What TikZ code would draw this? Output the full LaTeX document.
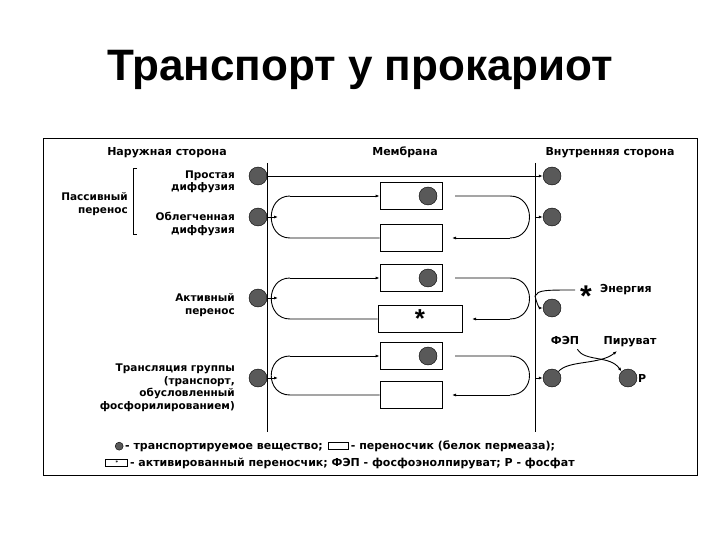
\documentclass[tikz,border=0pt]{standalone}
\usepackage{fontspec}
\setmainfont{Liberation Sans}
\newfontfamily\djfont{DejaVu Sans}
\usetikzlibrary{arrows.meta}
\begin{document}
\begin{tikzpicture}[x=1pt,y=-1pt,
  lbl/.style={font=\djfont\bfseries\fontsize{10.5}{12.5}\selectfont,align=right,inner sep=0},
  hdr/.style={font=\djfont\bfseries\fontsize{11}{12}\selectfont,inner sep=0},
  mol/.style={circle,draw=black,fill=black!65,minimum size=18,inner sep=0},
  carrier/.style={draw,thick,minimum width=62,minimum height=27,inner sep=0},
  ln/.style={line width=0.9pt},
  arr/.style={ln,-{Latex[length=4pt,width=3pt]}}]
\useasboundingbox (0,0) rectangle (720,540);
\node[font=\bfseries\fontsize{44}{48}\selectfont] (title) at (360,70) {Транспорт у прокариот};
\draw[thick] (43,138) rectangle (697,475);
% headers
\node[hdr,anchor=base] (h1) at (167,156) {Наружная сторона};
\node[hdr,anchor=base] (h2) at (405,156) {Мембрана};
\node[hdr,anchor=base] (h3) at (610,156) {Внутренняя сторона};
% membrane
\coordinate (mlt) at (267,163); \coordinate (mlb) at (267,432);
\coordinate (mrt) at (535,163); \coordinate (mrb) at (535,432);
\draw[ln] (mlt) -- (mlb);
\draw[ln] (mrt) -- (mrb);
% left labels
\node[lbl,anchor=east] (l1) at (235,182) {Простая\\диффузия};
\node[lbl,anchor=east] (l2) at (235,224) {Облегченная\\диффузия};
\node[lbl,anchor=east] (l3) at (128,204) {Пассивный\\перенос};
\draw[ln] (137,168) -- (133,168) -- (133,234) -- (137,234);
\node[lbl,anchor=east] (l4) at (235,305) {Активный\\перенос};
\node[lbl,anchor=east] (l5) at (235,388) {Трансляция группы\\(транспорт,\\обусловленный\\фосфорилированием)};
% boxes
\node[carrier] (b1) at (411,196) {};
\node[carrier] (b2) at (411,238) {};
\node[carrier] (b3) at (411,278) {};
\node[carrier,minimum width=84] (b4) at (420,319) {\fontsize{26}{26}\selectfont\bfseries *};
\node[carrier] (b5) at (411,356) {};
\node[carrier] (b6) at (411,395) {};
\node[mol] (m1i) at (428,196) {};
\node[mol] (m3i) at (428,278) {};
\node[mol] (m5i) at (428,356) {};
% molecules outside
\node[mol] (m1) at (258,176) {};
\node[mol] (m2) at (258,217) {};
\node[mol] (m3) at (258,298) {};
\node[mol] (m4) at (258,378) {};
\node[mol] (n1) at (552,176) {};
\node[mol] (n2) at (552,217) {};
\node[mol] (n3) at (552,308) {};
\node[mol] (n4) at (552,378) {};
\node[mol] (n5) at (628,378) {};
\node[hdr,anchor=west] (pp) at (638,378) {Р};
% simple diffusion
\draw[arr] (m1) -- (n1);
% short arrows
\draw[arr] (m2) -- ++(20,0);
\draw[arr] (m3) -- ++(20,0);
\draw[arr] (m4) -- ++(20,0);
\draw[arr] (535,217) -- (n2);
\draw[arr] (535,378) -- (n4);
% loops
\foreach \t/\b/\bt/\bb/\bbx in {196/238/b1/b2/442,278/319/b3/b4/462,356/395/b5/b6/442}{
  \draw[ln] (\bb.west) -- (290,\b) .. controls (265,\b) and (265,\t) .. (290,\t);
  \draw[arr] (290,\t) -- (\bt.west);
  \draw[ln] (455,\t) -- (510,\t) .. controls (536,\t) and (536,\b) .. (510,\b);
  \draw[arr] (510,\b) -- (\bbx+10,\b);
}
% energy
\node[font=\bfseries\fontsize{30}{30}\selectfont,inner sep=0] (star) at (586,296) {*};
\node[hdr,anchor=west] (en) at (600,290) {Энергия};
\draw[ln] (535,296) .. controls (538,290) and (545,290) .. (575,290);
\draw[arr] (535,296) .. controls (538,308) and (540,308) .. (n3.west);
% phosphorylation
\node[hdr,anchor=base] (fep) at (565,344) {ФЭП};
\node[hdr,anchor=base] (pyr) at (630,344) {Пируват};
\draw[arr] (fep.south east) ++(-2,5) .. controls (585,362) and (610,355) .. (n5.north west);
\draw[arr] (n4.north east) .. controls (568,360) and (600,365) .. (617,351);
% legend
\node[hdr] (leg1) at (335,446) {\tikz[baseline=-3pt]\draw[fill=black!65] (0,0) circle (4pt);\,- транспортируемое вещество;\enspace \tikz[baseline=0pt]\draw[thick] (0,0) rectangle (20pt,7pt);\,- переносчик (белок пермеаза);};
\node[hdr] (leg2) at (340,463) {\tikz[baseline=0pt]{\draw[thick] (0,0) rectangle (22pt,7pt);\node[inner sep=0,font=\tiny] at (11pt,3.5pt){*};}\,- активированный переносчик; ФЭП - фосфоэнолпируват; Р - фосфат};
\end{tikzpicture}
\end{document}
